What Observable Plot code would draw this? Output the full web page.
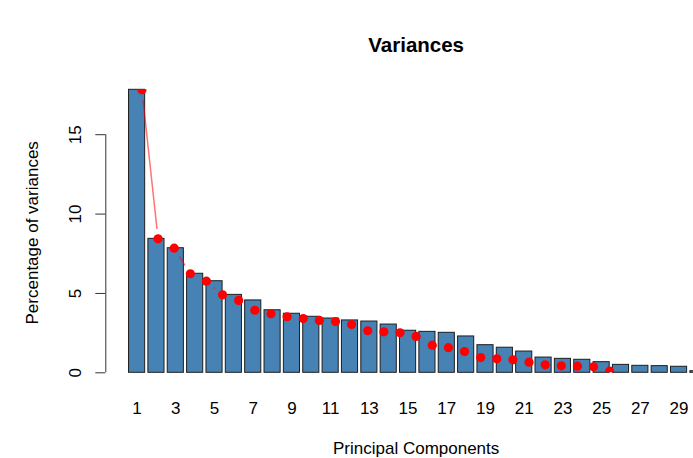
<!DOCTYPE html>
<html><head><meta charset="utf-8">
<script src="https://cdn.jsdelivr.net/npm/d3@7"></script>
<script src="https://cdn.jsdelivr.net/npm/@observablehq/plot@0.6"></script>
<style>html,body{margin:0;padding:0;overflow:hidden;background:#fff}</style>
</head><body><div id="chart"></div>
<script>
const components = [1,2,3,4,5,6,7,8,9,10,11,12,13,14,15,16,17,18,19,20,21,22,23,24,25,26,27,28,29,30];
const variances = [17.83,8.44,7.85,6.24,5.77,4.91,4.56,3.94,3.72,3.53,3.42,3.30,3.23,3.04,2.65,2.58,2.52,2.29,1.74,1.58,1.34,0.96,0.88,0.82,0.67,0.50,0.44,0.42,0.38,0.10];
const tickLabels = ["1","2","3","4","5","6","7","8","9","10","11","12","13","14","15","16","17","18","19","20","21","22","23","24","25","26","27","28","29","30"];
const yTicks = [0,5,10,15];
const title = "Variances";
const xTitle = "Principal Components";
const yTitle = "Percentage of variances";

const W = 693, H = 458;
const barWidth = 1, space = 0.2;
const rows = components.map((c, i) => {
  const x1 = space + i * (barWidth + space);
  return {comp: c, value: variances[i], label: tickLabels[i], x1, x2: x1 + barWidth, mid: x1 + barWidth / 2};
});
const span = rows.length * (barWidth + space);
const xMin = space - 0.04 * span;
const xFull = span + 0.04 * span;
const pxPerUnit = 16.13;
const marginLeft = 105.3, marginTop = 89.3, marginBottom = 85.7;
const xMax = xMin + (W - marginLeft) / pxPerUnit;
const centerX = (xMin + xFull) / 2 - 0.1;

const segs = rows.slice(1).map((d, i) => ({x1: rows[i].comp, y1: rows[i].value, x2: d.comp, y2: d.value}));

const font = "'Liberation Sans', Arial, Helvetica, sans-serif";

const chart = Plot.plot({
  width: W, height: H,
  marginLeft, marginRight: 0, marginTop, marginBottom,
  style: {fontFamily: font, background: "#fff", color: "#000"},
  x: {type: "linear", domain: [xMin, xMax], axis: null},
  y: {domain: [0, d3.max(variances)], axis: null},
  marks: [
    Plot.rectY(rows, {x1: "x1", x2: "x2", y: "value", fill: "#4682b4", stroke: "#1e1e1e", strokeWidth: 1}),
    Plot.arrow(segs, {x1: "x1", y1: "y1", x2: "x2", y2: "y2", stroke: "#ff0000", strokeOpacity: 0.55, strokeWidth: 1.5, headLength: 0, insetStart: 10.5, insetEnd: 10.5}),
    Plot.dot(rows, {x: "comp", y: "value", r: 4.6, fill: "#ff0000", stroke: null, clip: true}),
    Plot.ruleX([xMin], {y1: 0, y2: 15, stroke: "#333", strokeWidth: 1}),
    Plot.ruleY(yTicks, {x1: xMin, x2: xMin - 10 / pxPerUnit, stroke: "#333", strokeWidth: 1}),
    Plot.text(yTicks, {x: xMin, y: d => d, text: d => String(d), rotate: -90, dx: -30.3, fontSize: 17, textAnchor: "middle", lineAnchor: "middle", fill: "#000"}),
    Plot.text(rows.filter((d, i) => i % 2 === 0), {x: "mid", y: 0, dy: 35.7, text: "label", fontSize: 17, textAnchor: "middle", lineAnchor: "middle", fill: "#000"}),
    Plot.text([title], {x: centerX, frameAnchor: "top", dy: -44, text: d => d, fontWeight: "bold", fontSize: 20.5, textAnchor: "middle", lineAnchor: "middle", fill: "#000"}),
    Plot.text([xTitle], {x: centerX, frameAnchor: "bottom", dy: 75.5, text: d => d, fontSize: 17, textAnchor: "middle", lineAnchor: "middle", fill: "#000"}),
    Plot.text([yTitle], {frameAnchor: "left", dx: -73.6, rotate: -90, dy: 1.5, text: d => d, fontSize: 17, textAnchor: "middle", lineAnchor: "middle", fill: "#000"})
  ]
});
document.getElementById("chart").appendChild(chart);
</script>
</body></html>
